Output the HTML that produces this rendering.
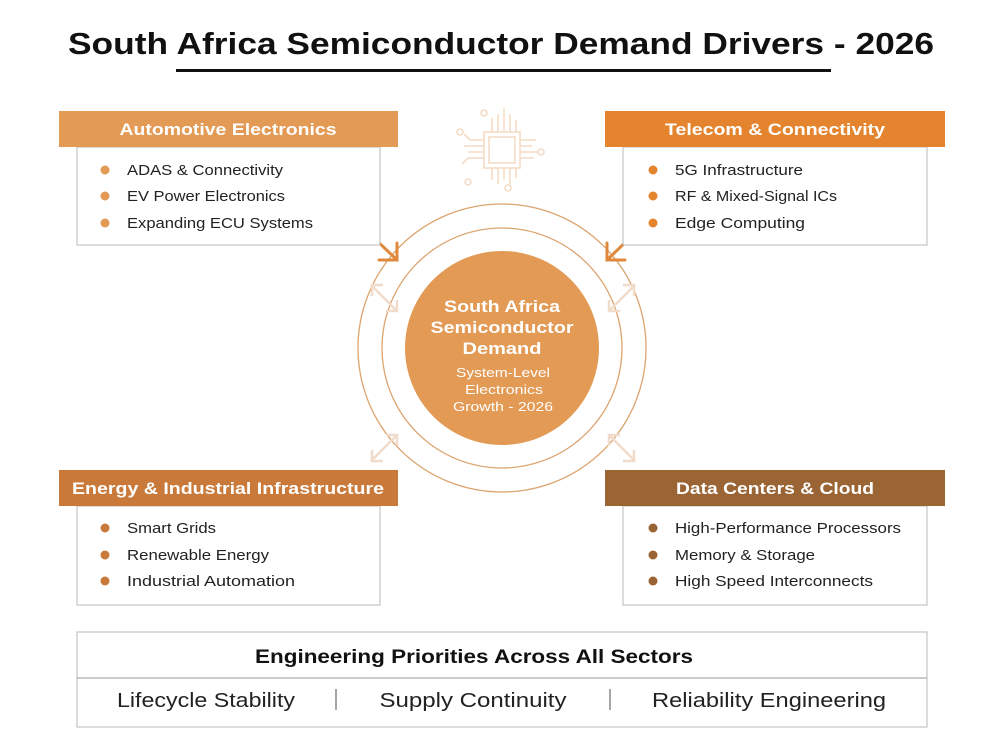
<!DOCTYPE html>
<html><head><meta charset="utf-8"><style>
html,body{margin:0;padding:0;background:#fff;}
svg{display:block;}
text{font-family:"Liberation Sans",sans-serif;}
</style></head><body>
<svg width="1000" height="753" viewBox="0 0 1000 753" xmlns="http://www.w3.org/2000/svg">
<rect width="1000" height="753" fill="#fff"/>
<text x="501" y="54" text-anchor="middle" font-size="31" font-weight="bold" fill="#111" textLength="866" lengthAdjust="spacingAndGlyphs">South Africa Semiconductor Demand Drivers - 2026</text>
<rect x="176" y="69" width="655" height="3" fill="#111"/>

<!-- chip icon -->
<g stroke="#f3dcc6" stroke-width="1.6" fill="none">
<rect x="484" y="132" width="36" height="36"/><rect x="489" y="137" width="26" height="26"/>
<path d="M492 132v-14M498 132v-18M504 132v-24M510 132v-18M516 132v-12"/>
<path d="M492 168v12M498 168v16M504 168v12M510 168v18M516 168v10"/>
<path d="M484 140h-14l-6-6M484 146h-20M484 152h-16M484 158h-16l-6 6"/>
<path d="M520 140h16M520 146h12M520 152h18M520 158h14"/>
<circle cx="460" cy="132" r="3"/><circle cx="484" cy="113" r="3"/><circle cx="541" cy="152" r="3"/><circle cx="468" cy="182" r="3"/><circle cx="508" cy="188" r="3"/>
</g>

<!-- circles -->
<circle cx="502" cy="348" r="144" fill="none" stroke="#dca46f" stroke-width="1.3"/>
<circle cx="502" cy="348" r="120" fill="none" stroke="#dca46f" stroke-width="1.3"/>
<circle cx="502" cy="348" r="97" fill="#e29a55"/>
<g fill="#fff" text-anchor="middle" lengthAdjust="spacingAndGlyphs">
<text x="502" y="312" font-size="17" font-weight="bold" textLength="116" lengthAdjust="spacingAndGlyphs">South Africa</text>
<text x="502" y="333" font-size="17" font-weight="bold" textLength="143" lengthAdjust="spacingAndGlyphs">Semiconductor</text>
<text x="502" y="354" font-size="17" font-weight="bold" textLength="79" lengthAdjust="spacingAndGlyphs">Demand</text>
<text x="503" y="377" font-size="13" textLength="94" lengthAdjust="spacingAndGlyphs">System-Level</text>
<text x="504" y="394" font-size="13" textLength="78" lengthAdjust="spacingAndGlyphs">Electronics</text>
<text x="503" y="411" font-size="13" textLength="100" lengthAdjust="spacingAndGlyphs">Growth - 2026</text>
</g>

<!-- arrows -->
<g stroke="#e0893c" stroke-width="3" fill="none" stroke-linecap="round">
<path d="M369 233L397 260M379 260H397V243"/>
<path d="M635 233L607 260M625 260H607V243"/>
</g>
<g stroke="#f1dccb" stroke-width="2.5" fill="none">
<path d="M371 285L397 311M372 296V285H383M386 311H397V300"/>
<path d="M635 285L609 311M634 296V285H623M620 311H609V300"/>
<path d="M371 461L397 435M372 450V461H383M386 435H397V446"/>
<path d="M635 461L609 435M634 450V461H623M620 435H609V446"/>
</g>

<!-- cards -->
<g font-size="15" fill="#222">
<rect x="77" y="147" width="303" height="98" fill="#fff" stroke="#b8b8b8"/>
<rect x="59" y="111" width="339" height="36" fill="#e29a55"/>
<text x="228" y="135" text-anchor="middle" font-size="17" font-weight="bold" fill="#fff" textLength="217" lengthAdjust="spacingAndGlyphs">Automotive Electronics</text>
<circle cx="105" cy="170" r="4.5" fill="#e29a55"/><text x="127" y="175" textLength="156" lengthAdjust="spacingAndGlyphs">ADAS &amp; Connectivity</text>
<circle cx="105" cy="196" r="4.5" fill="#e29a55"/><text x="127" y="201" textLength="158" lengthAdjust="spacingAndGlyphs">EV Power Electronics</text>
<circle cx="105" cy="223" r="4.5" fill="#e29a55"/><text x="127" y="228" textLength="186" lengthAdjust="spacingAndGlyphs">Expanding ECU Systems</text>

<rect x="623" y="147" width="304" height="98" fill="#fff" stroke="#b8b8b8"/>
<rect x="605" y="111" width="340" height="36" fill="#e5842f"/>
<text x="775" y="135" text-anchor="middle" font-size="17" font-weight="bold" fill="#fff" textLength="220" lengthAdjust="spacingAndGlyphs">Telecom &amp; Connectivity</text>
<circle cx="653" cy="170" r="4.5" fill="#e5842f"/><text x="675" y="175" textLength="128" lengthAdjust="spacingAndGlyphs">5G Infrastructure</text>
<circle cx="653" cy="196" r="4.5" fill="#e5842f"/><text x="675" y="201" textLength="162" lengthAdjust="spacingAndGlyphs">RF &amp; Mixed-Signal ICs</text>
<circle cx="653" cy="223" r="4.5" fill="#e5842f"/><text x="675" y="228" textLength="130" lengthAdjust="spacingAndGlyphs">Edge Computing</text>

<rect x="77" y="506" width="303" height="99" fill="#fff" stroke="#b8b8b8"/>
<rect x="59" y="470" width="339" height="36" fill="#c97a3a"/>
<text x="228" y="494" text-anchor="middle" font-size="17" font-weight="bold" fill="#fff" textLength="312" lengthAdjust="spacingAndGlyphs">Energy &amp; Industrial Infrastructure</text>
<circle cx="105" cy="528" r="4.5" fill="#c97a3a"/><text x="127" y="533" textLength="89" lengthAdjust="spacingAndGlyphs">Smart Grids</text>
<circle cx="105" cy="555" r="4.5" fill="#c97a3a"/><text x="127" y="560" textLength="142" lengthAdjust="spacingAndGlyphs">Renewable Energy</text>
<circle cx="105" cy="581" r="4.5" fill="#c97a3a"/><text x="127" y="586" textLength="168" lengthAdjust="spacingAndGlyphs">Industrial Automation</text>

<rect x="623" y="506" width="304" height="99" fill="#fff" stroke="#b8b8b8"/>
<rect x="605" y="470" width="340" height="36" fill="#9a6434"/>
<text x="775" y="494" text-anchor="middle" font-size="17" font-weight="bold" fill="#fff" textLength="198" lengthAdjust="spacingAndGlyphs">Data Centers &amp; Cloud</text>
<circle cx="653" cy="528" r="4.5" fill="#9a6434"/><text x="675" y="533" textLength="226" lengthAdjust="spacingAndGlyphs">High-Performance Processors</text>
<circle cx="653" cy="555" r="4.5" fill="#9a6434"/><text x="675" y="560" textLength="140" lengthAdjust="spacingAndGlyphs">Memory &amp; Storage</text>
<circle cx="653" cy="581" r="4.5" fill="#9a6434"/><text x="675" y="586" textLength="198" lengthAdjust="spacingAndGlyphs">High Speed Interconnects</text>
</g>

<!-- bottom panel -->
<rect x="77" y="632" width="850" height="95" fill="#fff" stroke="#b8b8b8"/>
<line x1="77" y1="678" x2="927" y2="678" stroke="#999"/>
<text x="474" y="663" text-anchor="middle" font-size="19" font-weight="bold" fill="#111" textLength="438" lengthAdjust="spacingAndGlyphs">Engineering Priorities Across All Sectors</text>
<g font-size="20" fill="#222" text-anchor="middle">
<text x="206" y="707" textLength="178" lengthAdjust="spacingAndGlyphs">Lifecycle Stability</text>
<text x="473" y="707" textLength="187" lengthAdjust="spacingAndGlyphs">Supply Continuity</text>
<text x="769" y="707" textLength="234" lengthAdjust="spacingAndGlyphs">Reliability Engineering</text>
</g>
<line x1="336" y1="689" x2="336" y2="710" stroke="#888" stroke-width="1.5"/>
<line x1="610" y1="689" x2="610" y2="710" stroke="#888" stroke-width="1.5"/>
</svg>
</body></html>
